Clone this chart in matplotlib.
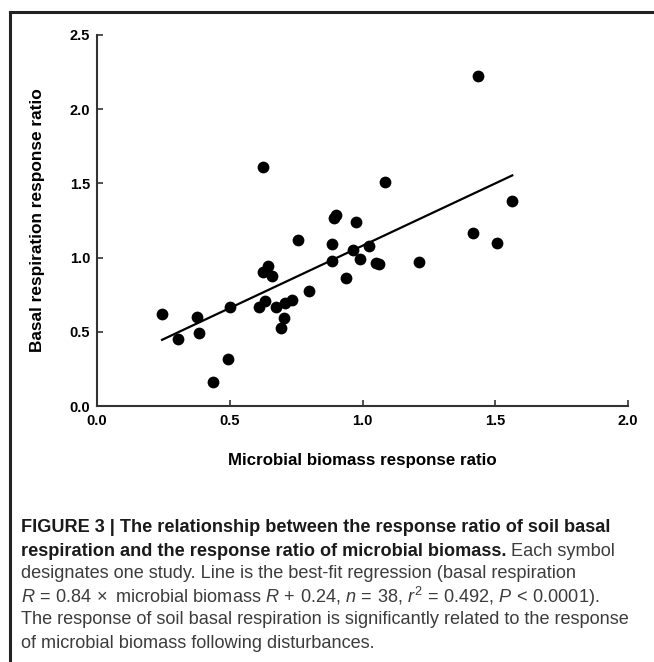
import matplotlib
matplotlib.use("Agg")
import matplotlib.pyplot as plt
from matplotlib import font_manager
from matplotlib.lines import Line2D
import numpy as np

# Data (microbial biomass RR vs basal respiration RR)
biomass_rr = [0.245, 0.306, 0.377, 0.384, 0.436, 0.495, 0.501, 0.612, 0.634, 0.627,
              0.627, 0.645, 0.658, 0.673, 0.692, 0.705, 0.707, 0.733, 0.756, 0.800,
              0.884, 0.884, 0.893, 0.899, 0.938, 0.966, 0.977, 0.991, 1.026, 1.050,
              1.062, 1.084, 1.211, 1.418, 1.436, 1.506, 1.564]
respiration_rr = [0.62, 0.45, 0.60, 0.49, 0.16, 0.315, 0.665, 0.665, 0.705, 1.61,
                  0.905, 0.945, 0.875, 0.67, 0.525, 0.59, 0.693, 0.715, 1.12, 0.773,
                  1.09, 0.978, 1.27, 1.29, 0.865, 1.051, 1.238, 0.988, 1.078, 0.962,
                  0.958, 1.507, 0.968, 1.168, 2.224, 1.10, 1.381]

# regression from the caption
slope, intercept = 0.84, 0.24

x_ticks = [0.0, 0.5, 1.0, 1.5, 2.0]
y_ticks = [0.0, 0.5, 1.0, 1.5, 2.0, 2.5]

installed = {f.name for f in font_manager.fontManager.ttflist}
cap_font = "Liberation Sans Narrow" if "Liberation Sans Narrow" in installed else "Liberation Sans"
plt.rcParams['font.family'] = ['Liberation Sans', 'DejaVu Sans']
plt.rcParams['mathtext.fontset'] = 'custom'
plt.rcParams['mathtext.rm'] = cap_font
plt.rcParams['mathtext.it'] = cap_font + ':italic'

fig = plt.figure(figsize=(6.54, 6.62), dpi=100)
ax = fig.add_axes([97 / 654, 1 - 406 / 662, 531 / 654, 371 / 662])

ax.scatter(biomass_rr, respiration_rr, s=72, color='black', zorder=3, linewidths=0)
xl = np.array([min(biomass_rr), max(biomass_rr)])
ax.plot(xl, slope * xl + intercept, color='black', lw=1.6)

ax.set_xlim(0, 2.0)
ax.set_ylim(0, 2.5)
ax.set_xticks(x_ticks)
ax.set_yticks(y_ticks)
ax.set_xticklabels([f"{v:.1f}" for v in x_ticks], fontweight='bold', fontsize=10.5)
ax.set_yticklabels([f"{v:.1f}" for v in y_ticks], fontweight='bold', fontsize=10.5)
ax.tick_params(axis='x', direction='in', length=4, width=1.2, color='#333333', pad=6)
ax.tick_params(axis='y', direction='in', length=4, width=1.2, color='#333333', pad=5)
for side in ['top', 'right']:
    ax.spines[side].set_visible(False)
for side in ['left', 'bottom']:
    ax.spines[side].set_linewidth(1.5)
    ax.spines[side].set_color('#333333')

fig.text(362 / 654, 1 - 461 / 662, 'Microbial biomass response ratio',
         ha='center', va='center', fontweight='bold', fontsize=12.2)
fig.text(38 / 654, 1 - 220 / 662, 'Basal respiration response ratio',
         ha='center', va='center', rotation=90, fontweight='bold', fontsize=12.4)

# frame around the figure panel (top and left edges only)
fig.add_artist(Line2D([10 / 654, 1.0], [1 - 12 / 662, 1 - 12 / 662],
                      transform=fig.transFigure, color='#222222', lw=2.2))
fig.add_artist(Line2D([10 / 654, 10 / 654], [1 - 12 / 662, 0.0],
                      transform=fig.transFigure, color='#222222', lw=2.2))

# caption
cap_x = 21 / 654
cap_size = 13.1
line_y = [528, 551, 574, 597, 620, 644]
bold_col = '#1a1a1a'
reg_col = '#3c3c3c'

def cy(py):
    return 1 - py / 662

fig.text(cap_x, cy(line_y[0]), 'FIGURE 3 | The relationship between the response ratio of soil basal',
         family=cap_font, fontweight='bold', fontsize=cap_size, color=bold_col, va='center')
t2 = fig.text(cap_x, cy(line_y[1]), 'respiration and the response ratio of microbial biomass.',
              family=cap_font, fontweight='bold', fontsize=cap_size, color=bold_col, va='center')
ax.annotate(' Each symbol', xy=(1, 0), xycoords=t2, va='bottom', ha='left',
            family=cap_font, fontsize=cap_size, color=reg_col, annotation_clip=False)
fig.text(cap_x, cy(line_y[2]), 'designates one study. Line is the best-fit regression (basal respiration',
         family=cap_font, fontsize=cap_size, color=reg_col, va='center')
fig.text(cap_x, cy(line_y[3]),
         r'$R\,=\,0.84\,\times$ microbial biomass $R\,+\,0.24$, $n\,=\,38$, $r^2\,=\,0.492$, $P\,<\,0.0001$).',
         family=cap_font, fontsize=cap_size, color=reg_col, va='center')
fig.text(cap_x, cy(line_y[4]), 'The response of soil basal respiration is significantly related to the response',
         family=cap_font, fontsize=cap_size, color=reg_col, va='center')
fig.text(cap_x, cy(line_y[5]), 'of microbial biomass following disturbances.',
         family=cap_font, fontsize=cap_size, color=reg_col, va='center')

plt.savefig('out.png', dpi=100)
